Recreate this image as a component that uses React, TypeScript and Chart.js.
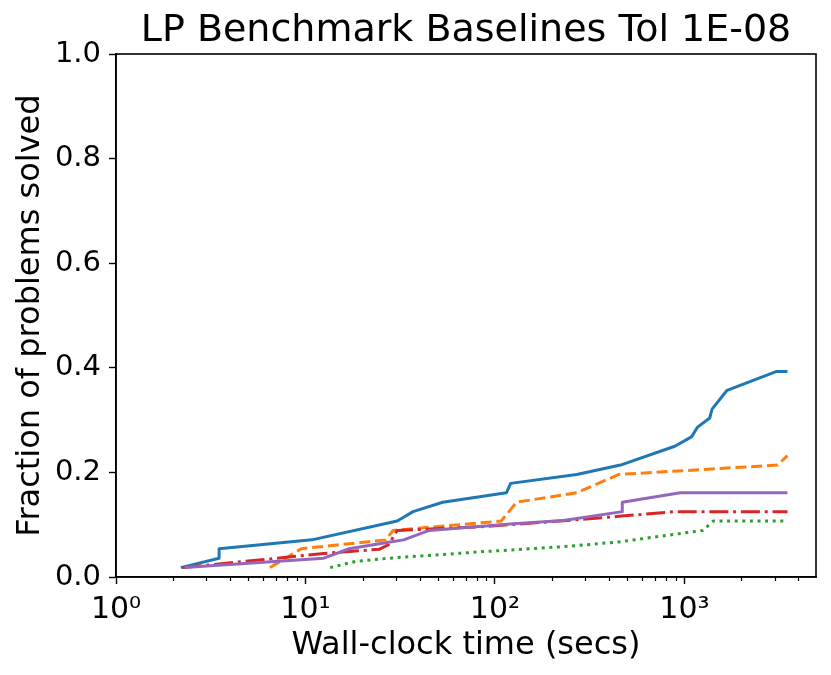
import { useEffect, useRef } from 'react';
import { Chart, registerables } from 'chart.js';
Chart.register(...registerables);

// wall-clock seconds vs fraction of problems solved
const blueTimes = [2.2, 3.5, 3.5, 10.8, 30.5, 37, 53, 115, 121, 270, 460, 890, 1090, 1170, 1360, 1400, 1680, 3070, 3500];
const blueFrac = [0.018, 0.036, 0.054, 0.071, 0.107, 0.125, 0.143, 0.161, 0.179, 0.196, 0.214, 0.25, 0.268, 0.286, 0.304, 0.321, 0.357, 0.393, 0.393];

const orangeTimes = [6.5, 9.5, 26.5, 29, 108, 130, 270, 450, 3100, 3500];
const orangeFrac = [0.018, 0.054, 0.071, 0.089, 0.107, 0.143, 0.161, 0.196, 0.214, 0.232];

const greenTimes = [13.5, 18.5, 30, 83, 230, 450, 1250, 1420, 3500];
const greenFrac = [0.018, 0.03, 0.037, 0.048, 0.058, 0.067, 0.089, 0.107, 0.107];

const redTimes = [2.25, 12.5, 24.5, 27.5, 30.5, 83, 220, 450, 900, 3500];
const redFrac = [0.018, 0.045, 0.053, 0.062, 0.089, 0.096, 0.107, 0.116, 0.125, 0.125];

const purpleTimes = [2.3, 12.5, 17, 25, 33, 45, 125, 230, 470, 470, 950, 3500];
const purpleFrac = [0.018, 0.036, 0.054, 0.064, 0.071, 0.089, 0.102, 0.108, 0.125, 0.143, 0.161, 0.161];

const xTickValues = [1, 10, 100, 1000];
const xTickLabels = ['10\u2070', '10\u00b9', '10\u00b2', '10\u00b3'];

const FONT = "'DejaVu Sans', sans-serif";

const toPoints = (xs: number[], ys: number[]) => xs.map((x, i) => ({ x, y: ys[i] }));

// box round the plot and the short minor ticks of the log axis
const frame = {
    id: 'frame',
    afterDatasetsDraw(chart: any) {
        const { ctx, chartArea } = chart;
        const xs = chart.scales.x;
        ctx.save();
        ctx.strokeStyle = '#000';
        ctx.lineWidth = 1.6;
        ctx.strokeRect(chartArea.left, chartArea.top, chartArea.right - chartArea.left, chartArea.bottom - chartArea.top);
        ctx.lineWidth = 1.2;
        for (let d = 0; d < 4; d++) {
            for (let m = 2; m < 10; m++) {
                const v = m * Math.pow(10, d);
                if (v > xs.max) break;
                const px = Math.round(xs.getPixelForValue(v)) + 0.5;
                ctx.beginPath();
                ctx.moveTo(px, chartArea.bottom);
                ctx.lineTo(px, chartArea.bottom + 4);
                ctx.stroke();
            }
        }
        ctx.restore();
    }
};

const App = () => {
    const chartRef = useRef(null);

    useEffect(() => {
        document.body.style.margin = '0';
        let myChart: any = null;

        if (chartRef.current) {
            const common = { pointRadius: 0, borderWidth: 3, tension: 0, fill: false, borderCapStyle: 'butt', borderJoinStyle: 'round' };
            myChart = new Chart(chartRef.current, {
                type: 'line',
                data: {
                    datasets: [
                        { ...common, label: 'baseline 1', data: toPoints(blueTimes, blueFrac), borderColor: '#1f77b4', order: 4 },
                        { ...common, label: 'baseline 2', data: toPoints(orangeTimes, orangeFrac), borderColor: '#ff7f0e', borderDash: [11, 4.8], order: 3 },
                        { ...common, label: 'baseline 3', data: toPoints(greenTimes, greenFrac), borderColor: '#2ca02c', borderDash: [3, 4.6], order: 2 },
                        { ...common, label: 'baseline 4', data: toPoints(redTimes, redFrac), borderColor: '#d62728', borderDash: [19, 4.8, 3, 4.8], order: 1 },
                        { ...common, label: 'baseline 5', data: toPoints(purpleTimes, purpleFrac), borderColor: '#9467bd', order: 0 },
                    ] as any
                },
                options: {
                    animation: false,
                    responsive: true,
                    maintainAspectRatio: false,
                    layout: { padding: { left: 0, right: 15, top: 0, bottom: 0 } },
                    plugins: {
                        legend: { display: false },
                        tooltip: { enabled: false },
                        title: {
                            display: true,
                            fullSize: false,
                            text: 'LP Benchmark Baselines Tol 1E-08',
                            color: '#000',
                            font: { family: FONT, size: 38, weight: 'normal' },
                            padding: { top: 8.4, bottom: 0 }
                        }
                    },
                    scales: {
                        x: {
                            type: 'logarithmic',
                            min: 1,
                            max: 4950,
                            afterBuildTicks: (scale: any) => {
                                scale.ticks = xTickValues.map((v) => ({ value: v }));
                            },
                            afterFit: (scale: any) => { scale.height = 98; },
                            ticks: {
                                autoSkip: false,
                                maxRotation: 0,
                                color: '#000',
                                padding: 8,
                                font: { family: FONT, size: 30 },
                                callback: (v: any) => {
                                    const i = xTickValues.indexOf(Number(v));
                                    return i >= 0 ? xTickLabels[i] : '';
                                }
                            },
                            grid: { drawOnChartArea: false, tickLength: 7, color: '#000', tickWidth: 1.4 },
                            border: { display: true, color: '#000', width: 1.6 },
                            title: {
                                display: true,
                                text: 'Wall-clock time (secs)',
                                color: '#000',
                                font: { family: FONT, size: 32 },
                                padding: { top: 0, bottom: 10 }
                            }
                        },
                        y: {
                            min: 0,
                            max: 1,
                            afterFit: (scale: any) => { scale.width = 116; },
                            ticks: {
                                stepSize: 0.2,
                                color: '#000',
                                padding: 8,
                                font: { family: FONT, size: 29 },
                                callback: (v: any) => Number(v).toFixed(1)
                            },
                            grid: { drawOnChartArea: false, tickLength: 7, color: '#000', tickWidth: 1.4 },
                            border: { display: true, color: '#000', width: 1.6 },
                            title: {
                                display: true,
                                text: 'Fraction of problems solved',
                                color: '#000',
                                font: { family: FONT, size: 32 },
                                padding: { top: 11, bottom: 0 }
                            }
                        }
                    }
                } as any,
                plugins: [frame]
            });
        }

        return () => {
            if (myChart) {
                myChart.destroy();
            }
        };
    }, []);

    return (
        <div style={{ width: '831px', height: '675px', position: 'relative' }}>
            <canvas ref={chartRef}></canvas>
        </div>
    );
};

export default App;
